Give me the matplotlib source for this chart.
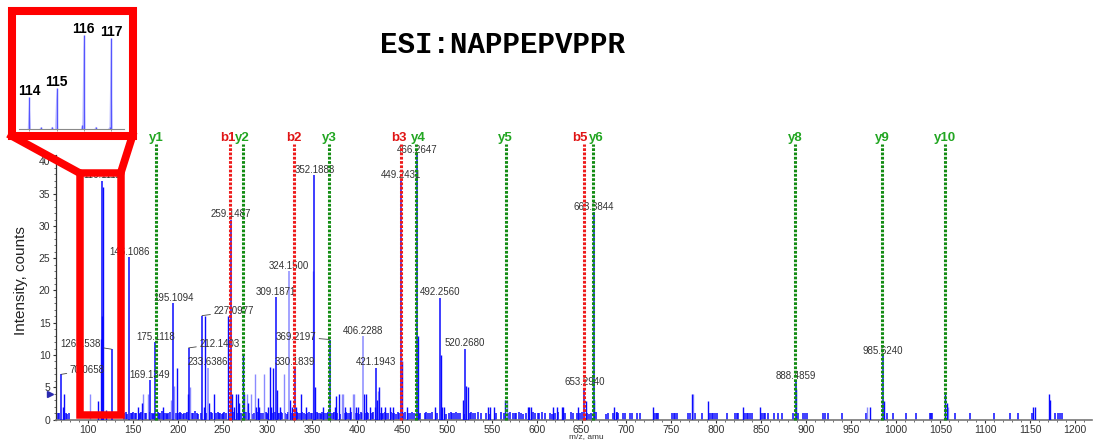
import matplotlib
matplotlib.use('Agg')
import matplotlib.pyplot as plt
from matplotlib.patches import Rectangle, ConnectionPatch
from matplotlib.transforms import blended_transform_factory
from matplotlib.ticker import MultipleLocator

plt.rcParams['font.family'] = ['Liberation Sans', 'DejaVu Sans']

# ---------------- data ----------------
title = 'ESI:NAPPEPVPPR'

# labelled peaks (m/z, intensity)
label_mz = [70.0658, 116.1112, 126.1538, 146.1086, 169.1349, 175.1118, 195.1094,
            212.1403, 227.0977, 233.6386, 259.1487, 309.1871, 324.1500, 330.1839,
            352.1888, 369.2197, 406.2288, 421.1943, 449.2431, 466.2647, 492.2560,
            520.2680, 653.2940, 663.3844, 888.4859, 985.6240]
label_h = [7.0, 37.0, 10.9, 25.2, 6.1, 12.0, 18.0,
           11.1, 16.1, 8.0, 31.0, 19.0, 23.0, 8.0,
           37.9, 12.4, 12.9, 8.0, 37.0, 41.0, 18.9,
           11.0, 4.9, 32.1, 5.9, 9.8]
label_light = [0, 0, 0, 0, 0, 0, 0,
               0, 0, 1, 0, 0, 1, 0,
               0, 0, 1, 0, 0, 0, 0,
               0, 0, 0, 0, 0]

# other dark peaks
peak_mz = [71.8, 72.8, 114.1, 115.1, 117.1, 111.5, 120.1, 155.4, 160.2, 183.2,
           199.2, 211.1, 229.0, 230.4, 235.2, 240.8, 255.8, 260.1, 263.0, 264.9,
           267.4, 268.6, 272.2, 274.2, 278.0, 287.5, 289.4, 291.0, 300.5, 302.8,
           304.0, 306.6, 310.2, 314.0, 325.1, 327.0, 332.0, 337.1, 343.0, 353.2,
           362.2, 375.1, 376.3, 379.9, 386.4, 392.0, 398.7, 401.0, 407.2, 410.0,
           414.3, 419.8, 422.4, 424.7, 426.8, 430.5, 436.2, 440.0, 450.2, 455.5,
           467.3, 486.8, 493.3, 494.5, 496.4, 517.9, 521.3, 523.5, 546.2, 547.8,
           552.5, 565.2, 590.7, 592.0, 593.5, 618.6, 622.3, 627.9, 629.7, 646.6,
           655.0, 664.4, 686.6, 688.0, 729.3, 772.8, 791.3, 829.6, 848.9, 889.5,
           971.5, 986.6, 1055.5, 1056.8, 1153.5, 1155.4, 1171.5, 1172.5]
peak_h = [2.0, 3.9, 12.5, 16.0, 36.0, 2.8, 1.5, 2.0, 2.5, 2.0,
          8.0, 4.0, 2.0, 16.1, 2.5, 4.0, 16.0, 4.0, 2.0, 4.0,
          3.9, 2.5, 10.0, 4.0, 2.5, 2.0, 3.4, 2.0, 2.0, 8.1,
          2.0, 8.0, 4.6, 2.0, 3.0, 2.0, 2.0, 3.9, 2.0, 5.0,
          2.0, 2.0, 3.6, 3.9, 2.0, 2.0, 2.0, 2.0, 4.0, 4.0,
          2.0, 2.0, 3.1, 5.0, 2.0, 2.0, 2.0, 2.0, 9.0, 2.0,
          13.0, 2.0, 10.0, 2.0, 2.0, 3.1, 5.2, 5.0, 2.0, 2.0,
          2.0, 3.1, 2.0, 2.0, 2.0, 2.0, 2.0, 2.0, 2.0, 2.0,
          2.9, 3.0, 1.9, 1.2, 1.9, 3.9, 2.9, 1.9, 1.9, 4.8,
          1.9, 2.9, 3.9, 2.5, 2.0, 2.0, 3.9, 3.0]

# lighter peaks
light_mz = [102.2, 161.7, 166.5, 192.5, 196.1, 213.5, 276.8, 281.3, 285.7, 296.1,
            318.7, 351.2, 382.7, 383.8, 395.0, 396.5, 423.5, 566.6, 774.6, 968.5, 1058.8]
light_h = [3.9, 4.0, 4.0, 3.0, 5.2, 5.0, 3.9, 4.0, 7.0, 7.0,
           7.0, 23.0, 4.0, 4.0, 4.0, 4.0, 4.4, 3.0, 3.9, 1.9, 2.0]

# low-level noise floor
floor_mz = [66.2, 68.0, 75.0, 76.3, 79.2, 140.5, 142.0, 143.5, 147.5, 149.0,
            150.5, 152.0, 153.5, 156.5, 158.0, 159.5, 163.0, 165.0, 167.5, 171.0,
            172.5, 174.0, 177.5, 179.0, 180.5, 182.0, 185.0, 186.5, 188.0, 189.5,
            191.0, 197.5, 201.0, 202.5, 204.0, 205.5, 207.0, 209.0, 210.5, 216.0,
            217.5, 219.0, 221.0, 222.5, 226.0, 232.0, 237.0, 238.5, 242.5, 244.5,
            246.0, 247.5, 249.0, 250.5, 252.0, 253.5, 257.0, 262.0, 266.0, 270.0,
            275.5, 279.5, 283.0, 284.5, 288.0, 293.0, 294.5, 298.0, 299.5, 301.0,
            305.0, 308.0, 311.5, 313.0, 315.0, 316.5, 320.0, 321.5, 323.0, 326.5,
            328.0, 333.0, 334.5, 336.0, 339.0, 341.0, 342.5, 344.5, 346.0, 348.0,
            349.5, 355.0, 356.5, 358.0, 359.5, 361.0, 364.0, 366.0, 367.5, 371.0,
            373.0, 374.5, 378.0, 381.0, 385.0, 387.5, 389.0, 391.0, 393.5, 397.5,
            400.0, 402.0, 404.0, 405.0, 408.5, 411.0, 412.5, 416.0, 418.0, 425.5,
            427.5, 429.0, 431.0, 432.5, 434.0, 438.0, 439.5, 441.0, 443.0, 445.0,
            447.0, 451.5, 453.0, 457.0, 459.0, 461.0, 463.0, 468.5, 470.5, 475.0,
            477.0, 479.0, 481.0, 483.0, 489.0, 495.0, 498.5, 502.0, 504.0, 506.0,
            508.0, 510.0, 512.0, 515.0, 518.5, 525.5, 527.0, 529.0, 531.0, 535.0,
            538.0, 543.0, 548.0, 555.0, 560.0, 563.5, 567.5, 570.0, 573.5, 575.5,
            577.5, 580.0, 582.5, 585.0, 588.0, 596.0, 598.0, 601.0, 603.0, 606.0,
            609.0, 614.8, 617.0, 620.0, 624.0, 632.0, 638.0, 641.0, 644.6, 648.0,
            650.0, 656.5, 658.5, 660.6, 666.0, 677.3, 680.0, 685.0, 689.5, 691.0,
            696.6, 698.5, 704.0, 706.6, 712.2, 715.2, 730.8, 732.5, 734.0, 735.6,
            750.5, 752.5, 754.0, 756.1, 769.0, 771.0, 776.0, 783.9, 793.2, 795.0,
            797.0, 799.0, 800.6, 811.8, 821.0, 823.0, 824.7, 832.2, 834.0, 836.0,
            838.0, 839.6, 850.8, 853.0, 855.0, 858.2, 864.5, 869.3, 873.1, 885.8,
            891.0, 896.5, 898.5, 901.0, 919.5, 921.0, 925.1, 939.9, 967.5, 990.0,
            996.8, 1011.6, 1022.8, 1038.4, 1039.5, 1041.0, 1066.2, 1083.0, 1110.0, 1127.5,
            1136.8, 1151.7, 1177.7, 1181.0, 1183.0, 1185.0]
floor_h = [1.0, 1.0, 1.0, 0.9, 1.0, 1.0, 1.1, 0.9, 1.0, 1.0,
           1.2, 1.0, 1.0, 0.9, 1.0, 1.1, 1.0, 1.0, 1.2, 1.0,
           0.9, 1.0, 1.1, 1.0, 1.0, 1.3, 1.0, 1.0, 0.9, 1.0,
           1.1, 1.0, 1.0, 1.2, 1.0, 0.9, 1.0, 1.0, 1.1, 1.0,
           1.0, 1.3, 1.0, 0.9, 1.0, 1.0, 1.1, 1.0, 1.0, 1.2,
           1.0, 1.0, 0.9, 1.0, 1.1, 1.0, 1.0, 1.2, 1.0, 1.0,
           1.1, 1.0, 0.9, 1.0, 1.2, 1.0, 1.0, 1.1, 1.0, 0.9,
           1.0, 1.2, 1.0, 1.0, 1.1, 1.0, 1.0, 0.9, 1.2, 1.0,
           1.0, 1.1, 1.0, 1.0, 1.2, 1.0, 0.9, 1.0, 1.1, 1.0,
           1.0, 1.2, 1.0, 1.0, 0.9, 1.1, 1.0, 1.0, 1.2, 1.0,
           1.0, 1.1, 1.0, 0.9, 1.0, 1.2, 1.0, 1.0, 1.1, 1.0,
           1.0, 0.9, 1.2, 1.0, 1.0, 1.1, 1.0, 1.0, 1.2, 1.0,
           0.9, 1.0, 1.1, 1.0, 1.0, 1.2, 1.0, 1.0, 0.9, 1.1,
           1.0, 1.0, 1.2, 1.0, 1.0, 1.1, 1.0, 0.9, 1.0, 1.0,
           1.2, 1.0, 1.0, 1.1, 1.0, 1.0, 0.9, 1.0, 1.2, 1.0,
           1.0, 1.1, 1.0, 1.0, 0.9, 1.0, 1.2, 1.0, 1.0, 1.1,
           1.0, 1.0, 0.9, 1.0, 1.2, 1.0, 1.0, 1.1, 1.0, 1.0,
           1.0, 1.2, 1.0, 0.9, 1.0, 1.1, 1.0, 1.0, 1.0, 1.2,
           1.0, 1.0, 0.9, 1.0, 1.1, 1.0, 1.2, 1.0, 1.0, 1.0,
           1.1, 1.0, 0.9, 1.0, 1.2, 0.8, 1.0, 1.0, 1.1, 1.0,
           1.0, 1.0, 1.0, 1.0, 1.0, 1.0, 1.0, 1.0, 1.0, 1.0,
           1.0, 1.0, 1.0, 1.0, 1.0, 1.0, 1.0, 1.0, 1.0, 1.0,
           1.0, 1.0, 1.0, 1.0, 1.0, 1.0, 1.0, 1.0, 1.0, 1.0,
           1.0, 1.0, 1.0, 1.0, 1.0, 1.0, 1.0, 1.0, 1.0, 1.0,
           1.0, 1.0, 1.0, 1.0, 1.0, 1.0, 1.0, 1.0, 1.0, 1.0,
           1.0, 1.0, 1.0, 1.0, 1.0, 1.0, 1.0, 1.0, 1.0, 1.0,
           1.0, 1.0, 1.0, 1.0, 1.0, 1.0]

# fragment ion annotations
frag_names = ['y1', 'b1', 'y2', 'b2', 'y3', 'b3', 'y4', 'y5', 'b5', 'y6', 'y8', 'y9', 'y10']
frag_mz = [175.6, 258.4, 272.5, 329.6, 369.1, 448.4, 465.6, 565.3, 652.2, 662.3, 887.9, 985.3, 1055.3]

# inset (reporter ion region)
inset_mz = [114, 115, 116, 117]
inset_h = [34.0, 43.6, 100.0, 96.8]
inset_labels = ['114', '115', '116', '117']
inset_minor_mz = [114.43, 114.84, 115.95, 116.45, 116.95]
inset_minor_h = [1.8, 2.5, 4.2, 2.5, 2.0]

x_range = (64.3, 1218.9)
y_range = (0, 41.0)

# ---------------- figure ----------------
W, H = 1095, 442
fig = plt.figure(figsize=(W / 100, H / 100), dpi=100)


def fx(px):
    return px / W


def fy(py):
    return 1 - py / H


ax = fig.add_axes([fx(56), fy(419.5), fx(1092) - fx(56), fy(155) - fy(419.5)])
ax.set_xlim(*x_range)
ax.set_ylim(*y_range)

DARK = '#0a0aff'
LIGHT = '#8a8aff'

ax.vlines(floor_mz, 0, floor_h, colors=DARK, lw=1.1, zorder=2)
ax.vlines(light_mz, 0, light_h, colors=LIGHT, lw=1.0, zorder=2)
ax.vlines(peak_mz, 0, peak_h, colors=DARK, lw=1.0, zorder=3)
lab_cols = [LIGHT if l else DARK for l in label_light]
ax.vlines(label_mz, 0, label_h, colors=lab_cols, lw=1.1, zorder=3)

# peak labels
side = {70.0658: (6, 3, 'left'), 126.1538: (-7.5, 3.5, 'right'),
        212.1403: (7.5, 3, 'left'), 227.0977: (8, 3, 'left'),
        369.2197: (-9.5, 2, 'right')}
for mz, h in zip(label_mz, label_h):
    txt = f'{mz:.4f}'
    if mz in side:
        dx, dy, ha = side[mz]
        ax.annotate(txt, xy=(mz, h), xytext=(dx, dy), textcoords='offset points',
                    ha=ha, va='center', fontsize=7, color='#333333', zorder=6,
                    arrowprops=dict(arrowstyle='-', lw=0.6, color='#444444',
                                    shrinkA=0, shrinkB=0))
    else:
        ax.annotate(txt, xy=(mz, h), xytext=(0, 0.3), textcoords='offset points',
                    ha='center', va='bottom', fontsize=7, color='#333333', zorder=6)

# fragment lines
trans = blended_transform_factory(ax.transData, ax.transAxes)
frag_dx = {'b1': -2, 'y2': 0, 'b3': -1, 'y4': 2, 'b5': -2.5, 'y6': 2.5}
for name, mz in zip(frag_names, frag_mz):
    is_b = name.startswith('b')
    lc = '#ee1c1c' if is_b else '#138c13'
    tc = '#e01515' if is_b else '#22a622'
    ax.plot([mz, mz], [0, 1.04], transform=trans, color=lc, lw=2.2,
            linestyle=(0, (0.9, 0.5)), dash_capstyle='butt', clip_on=False, zorder=7)
    ax.annotate(name, xy=(mz, 1.066), xycoords=trans,
                xytext=(frag_dx.get(name, 0), 0), textcoords='offset points',
                ha='center', va='center', fontsize=9.5, fontweight='bold',
                color=tc, annotation_clip=False)

# axes styling
for s in ['top', 'right']:
    ax.spines[s].set_visible(False)
ax.spines['left'].set_color('#333333')
ax.spines['bottom'].set_color('#777777')
ax.spines['bottom'].set_linewidth(1.2)
ax.spines['left'].set_linewidth(0.9)
ax.xaxis.set_major_locator(MultipleLocator(50))
ax.xaxis.set_minor_locator(MultipleLocator(10))
ax.yaxis.set_major_locator(MultipleLocator(5))
ax.yaxis.set_minor_locator(MultipleLocator(1))
ax.tick_params(axis='both', which='major', labelsize=7.5, labelcolor='#333333',
               color='#333333', length=2.5, width=0.8, pad=1.5)
ax.tick_params(axis='both', which='minor', color='#555555', length=1.5, width=0.6)
ax.set_xticks([t for t in range(100, 1201, 50)])

# threshold marker
ax.plot([-0.006], [3.9], marker='>', markersize=5, color='#2a2ab0',
        transform=blended_transform_factory(ax.transAxes, ax.transData), clip_on=False)

fig.text(fx(21), fy(281), 'Intensity, counts', rotation=90, ha='center', va='center',
         fontsize=11, color='#222222')
fig.text(fx(586), fy(437), 'm/z, amu', ha='center', va='center', fontsize=6, color='#333333')
fig.text(fx(502), fy(45), title, ha='center', va='center', fontsize=21,
         family='Liberation Mono', fontweight='bold', color='black')

# red highlight rectangle around reporter ions
RED = '#ff0000'
rect = Rectangle((90.7, 0.7), 136.4 - 90.7, 38.2 - 0.7, fill=False, edgecolor=RED,
                 lw=5.4, joinstyle='miter', clip_on=False, zorder=10)
ax.add_patch(rect)

# inset box
box = Rectangle((fx(11.5), fy(135.8)), fx(132.5) - fx(11.5), fy(11) - fy(135.8),
                transform=fig.transFigure, fill=False, edgecolor=RED, lw=5.8,
                joinstyle='miter', zorder=10)
fig.add_artist(box)
for bx, rx in [(11.5, 90.7), (132.5, 136.4)]:
    cp = ConnectionPatch(xyA=(fx(bx), fy(135.8)), coordsA=fig.transFigure,
                         xyB=(rx, 38.2), coordsB=ax.transData,
                         color=RED, lw=5.6, capstyle='projecting', zorder=10)
    fig.add_artist(cp)

# inset spectrum
ins = fig.add_axes([fx(19), fy(129), fx(124) - fx(19), fy(15) - fy(129)])
ins.set_xlim(113.62, 117.48)
ins.set_ylim(0, 121)
for s in ['top', 'right', 'left']:
    ins.spines[s].set_visible(False)
ins.spines['bottom'].set_color('#8a8a8a')
ins.spines['bottom'].set_linewidth(0.8)
ins.set_yticks([])
ins.set_xticks(inset_mz)
ins.tick_params(axis='x', length=1.5, width=0.6, color='#8a8a8a', labelbottom=False)
ins.patch.set_alpha(0)
for mz, h in zip(inset_mz + inset_minor_mz, inset_h + inset_minor_h):
    ins.fill([mz - 0.06, mz, mz + 0.06], [0, h, 0], color='#c4c4ff', lw=0)
    ins.vlines([mz], 0, [h], colors='#5555ff', lw=1.0)
for mz, h, lab in zip(inset_mz, inset_h, inset_labels):
    ins.annotate(lab, xy=(mz, h), xytext=(0, 1.5), textcoords='offset points',
                 ha='center', va='baseline', fontsize=10, fontweight='bold',
                 color='black', annotation_clip=False)

fig.savefig('out.png', dpi=100)
